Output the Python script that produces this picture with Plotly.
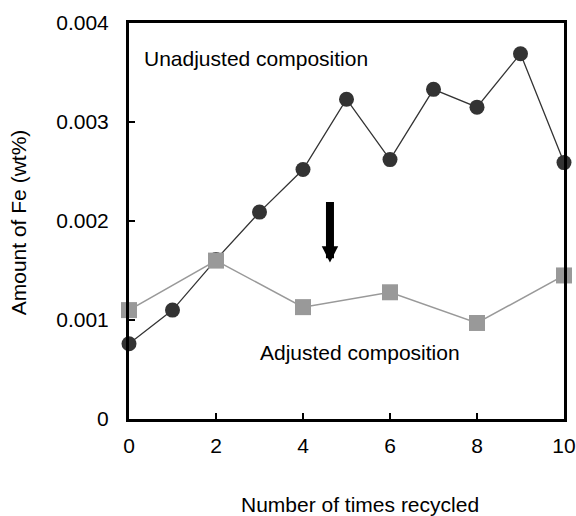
import plotly.graph_objects as go

cycles = [0, 1, 2, 3, 4, 5, 6, 7, 8, 9, 10]
unadjusted_fe = [0.00076, 0.00110, 0.00161, 0.00209, 0.00252, 0.00323,
                 0.00262, 0.00333, 0.00315, 0.00369, 0.00259]
adj_cycles = [0, 2, 4, 6, 8, 10]
adjusted_fe = [0.00110, 0.00160, 0.00113, 0.00128, 0.00097, 0.00145]

y_ticks = [0, 0.001, 0.002, 0.003, 0.004]
y_tick_text = ["0", "0.001", "0.002", "0.003", "0.004"]
x_ticks = [0, 2, 4, 6, 8, 10]

FONT = "Liberation Sans, Arial, Helvetica, sans-serif"

fig = go.Figure()
fig.add_trace(go.Scatter(
    x=cycles, y=unadjusted_fe, mode="lines+markers",
    line=dict(color="#333333", width=1.3),
    marker=dict(symbol="circle", size=15, color="#333333"),
    cliponaxis=False, showlegend=False))
fig.add_trace(go.Scatter(
    x=adj_cycles, y=adjusted_fe, mode="lines+markers",
    line=dict(color="#999999", width=1.5),
    marker=dict(symbol="square", size=16, color="#999999"),
    cliponaxis=False, showlegend=False))

fig.add_annotation(x=0.3, y=0.00364, xref="x", yref="y", text="Unadjusted composition",
                   showarrow=False, xanchor="left", yanchor="middle",
                   font=dict(size=21, color="black", family=FONT))
fig.add_annotation(x=5.3, y=0.00067, xref="x", yref="y", text="Adjusted composition",
                   showarrow=False, xanchor="center", yanchor="middle",
                   font=dict(size=21, color="black", family=FONT))
# downward arrow
fig.add_annotation(x=4.62, y=0.00158, xref="x", yref="y", ax=0, ay=-62,
                   axref="pixel", ayref="pixel", text="", showarrow=True,
                   arrowhead=2, arrowsize=0.41, arrowwidth=8, arrowcolor="black")
# axis titles
fig.add_annotation(x=0.53, y=-0.217, xref="paper", yref="paper",
                   text="Number of times recycled", showarrow=False,
                   xanchor="center", yanchor="middle",
                   font=dict(size=21, color="black", family=FONT))
fig.add_annotation(x=-0.255, y=0.497, xref="paper", yref="paper",
                   text="Amount of Fe (wt%)", showarrow=False, textangle=-90,
                   xanchor="center", yanchor="middle",
                   font=dict(size=21, color="black", family=FONT))

fig.update_xaxes(range=[0, 10], tickvals=x_ticks, ticks="inside", ticklen=6,
                 tickwidth=1.5, tickcolor="black", showline=True, linewidth=3,
                 linecolor="black", mirror=True, showgrid=False, zeroline=False,
                 ticklabelstandoff=6,
                 tickfont=dict(size=21, color="black", family=FONT))
fig.update_yaxes(range=[0, 0.004], tickvals=y_ticks, ticktext=y_tick_text,
                 ticks="inside", ticklen=6, tickwidth=1.5, tickcolor="black",
                 showline=True, linewidth=3, linecolor="black", mirror=True,
                 showgrid=False, zeroline=False, ticklabelstandoff=13,
                 tickfont=dict(size=21, color="black", family=FONT))

fig.update_layout(width=576, height=516, autosize=False,
                  margin=dict(l=129, r=12, t=23, b=97, autoexpand=False),
                  plot_bgcolor="white", paper_bgcolor="white",
                  font=dict(family=FONT, color="black"))
fig.write_html("out.html", config={"responsive": False, "displayModeBar": False},
               post_script="document.body.style.margin='0';document.body.style.overflow='hidden';")
